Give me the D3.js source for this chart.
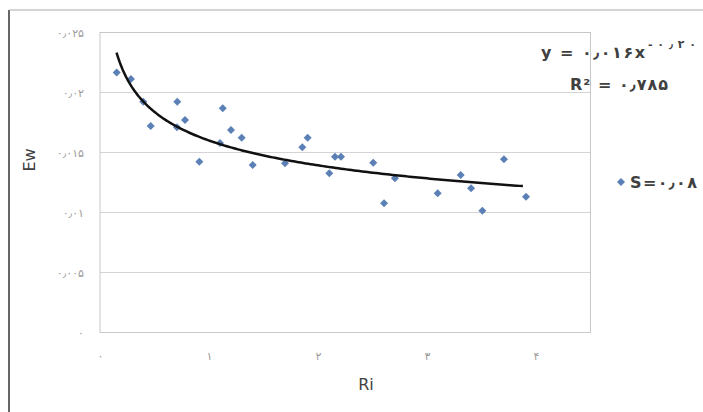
<!DOCTYPE html>
<html>
<head>
<meta charset="utf-8">
<script src="https://cdn.jsdelivr.net/npm/d3@7"></script>
<style>
  body { margin: 0; background: #fff; }
  text { font-family: "DejaVu Sans", sans-serif; }
</style>
</head>
<body>
<div id="chart"></div>
<script>
// Ri values
var riValues = [0.153, 0.284, 0.397, 0.465, 0.706, 0.709, 0.780, 0.911, 1.101, 1.126,
  1.202, 1.300, 1.401, 1.697, 1.856, 1.905, 2.104, 2.156, 2.211, 2.507,
  2.606, 2.706, 3.098, 3.309, 3.404, 3.508, 3.706, 3.908];
// Ew values
var ewValues = [0.02167, 0.02112, 0.01923, 0.01721, 0.0171, 0.01923, 0.01771, 0.01423, 0.01579, 0.01868,
  0.01688, 0.01623, 0.01396, 0.0141, 0.01543, 0.01623, 0.01327, 0.01465, 0.01465, 0.01415,
  0.01077, 0.01285, 0.0116, 0.01313, 0.01202, 0.01015, 0.01443, 0.01132];

var xTicks = [0, 1, 2, 3, 4];
var xTickLabels = ["۰", "۱", "۲", "۳", "۴"];
var yTicks = [0, 0.005, 0.01, 0.015, 0.02, 0.025];
var yTickLabels = ["۰", "۰٫۰۰۵", "۰٫۰۱", "۰٫۰۱۵", "۰٫۰۲", "۰٫۰۲۵"];

// power trendline shown on the chart: y = 0.016 x^-0.20
var trendA = 0.016, trendB = -0.20;
var trendRange = [0.152, 3.88];
var legendLabel = "S=۰٫۰۸";

var width = 703, height = 412;
var svg = d3.select("#chart").append("svg")
  .attr("width", width)
  .attr("height", height);

// outer frame
svg.append("line").attr("x1", 9).attr("x2", 9).attr("y1", 10).attr("y2", height)
  .style("stroke", "#666").style("stroke-width", 2);
svg.append("line").attr("x1", 9).attr("x2", width).attr("y1", 10).attr("y2", 10)
  .style("stroke", "#aaa").style("stroke-width", 1);

var x = d3.scaleLinear().domain([0, 4.5]).range([100, 590.5]);
var y = d3.scaleLinear().domain([0, 0.025]).range([332.5, 32.5]);

// gridlines
svg.append("g").selectAll("line")
  .data(yTicks)
  .enter().append("line")
  .attr("x1", x(0)).attr("x2", x(4.5))
  .attr("y1", function(d) { return y(d); })
  .attr("y2", function(d) { return y(d); })
  .style("stroke", "#d4d4d4");

// plot border
svg.append("rect")
  .attr("x", x(0)).attr("y", y(0.025))
  .attr("width", x(4.5) - x(0)).attr("height", y(0) - y(0.025))
  .style("fill", "none").style("stroke", "#c8c8c8");

// y tick labels
var yAxis = d3.axisLeft(y).tickValues(yTicks)
  .tickFormat(function(d, i) { return yTickLabels[i]; })
  .tickSize(0).tickPadding(16);
var gy = svg.append("g").attr("transform", "translate(" + x(0) + ",0)").call(yAxis);
gy.select(".domain").remove();
gy.selectAll("text").style("font-size", "11px").style("fill", "#9a9a9a")
  .style("letter-spacing", "1.5px")
  .style("font-family", "DejaVu Sans")
  .attr("direction", "ltr").style("unicode-bidi", "bidi-override");

// x tick labels
var xAxis = d3.axisBottom(x).tickValues(xTicks)
  .tickFormat(function(d, i) { return xTickLabels[i]; })
  .tickSize(0).tickPadding(20);
var gx = svg.append("g").attr("transform", "translate(0," + y(0) + ")").call(xAxis);
gx.select(".domain").remove();
gx.selectAll("text").style("font-size", "11px").style("fill", "#9a9a9a")
  .style("font-family", "DejaVu Sans");

// axis titles
svg.append("text")
  .text("Ew")
  .attr("transform", "translate(35,160) rotate(-90)")
  .attr("text-anchor", "middle")
  .style("font-size", "16px").style("fill", "#404040");
svg.append("text")
  .text("Ri")
  .attr("x", 366).attr("y", 390)
  .attr("text-anchor", "middle")
  .style("font-size", "16px").style("fill", "#404040");

// points
function diamond(s) {
  return "M0," + (-s) + "L" + s + ",0L0," + s + "L" + (-s) + ",0Z";
}
svg.append("g").selectAll("path")
  .data(d3.zip(riValues, ewValues))
  .enter().append("path")
  .attr("d", diamond(4))
  .attr("transform", function(d) { return "translate(" + x(d[0]) + "," + y(d[1]) + ")"; })
  .style("fill", "#5b80b6");

// trendline
var trendX = d3.range(0, 201).map(function(i) {
  return trendRange[0] + (trendRange[1] - trendRange[0]) * Math.pow(i / 200, 1.6);
});
svg.append("path")
  .datum(trendX)
  .attr("d", d3.line()
    .x(function(d) { return x(d); })
    .y(function(d) { return y(trendA * Math.pow(d, trendB)); })
    .curve(d3.curveBasis))
  .style("fill", "none").style("stroke", "#111").style("stroke-width", 2.5);

// equation
svg.append("text").attr("x", 541).attr("y", 58)
  .text("y = ۰٫۰۱۶x")
  .attr("textLength", 104).attr("lengthAdjust", "spacing")
  .attr("direction", "ltr").style("unicode-bidi", "bidi-override")
  .style("font-size", "16px").style("font-weight", "bold").style("fill", "#404040");
svg.append("text").attr("x", 648).attr("y", 48)
  .text("-۰٫۲۰")
  .attr("textLength", 48).attr("lengthAdjust", "spacing")
  .attr("direction", "ltr").style("unicode-bidi", "bidi-override")
  .style("font-size", "11px").style("font-weight", "bold").style("fill", "#404040");
svg.append("text").attr("x", 570).attr("y", 90)
  .text("R² = ۰٫۷۸۵")
  .attr("textLength", 98).attr("lengthAdjust", "spacing")
  .attr("direction", "ltr").style("unicode-bidi", "bidi-override")
  .style("font-size", "16px").style("font-weight", "bold").style("fill", "#404040");

// legend
svg.append("path").attr("d", diamond(4))
  .attr("transform", "translate(621,182)")
  .style("fill", "#5b80b6");
svg.append("text").attr("x", 630).attr("y", 188)
  .text(legendLabel)
  .attr("textLength", 67).attr("lengthAdjust", "spacing")
  .attr("direction", "ltr").style("unicode-bidi", "bidi-override")
  .style("font-size", "16px").style("font-weight", "bold").style("fill", "#404040");
</script>
</body>
</html>
